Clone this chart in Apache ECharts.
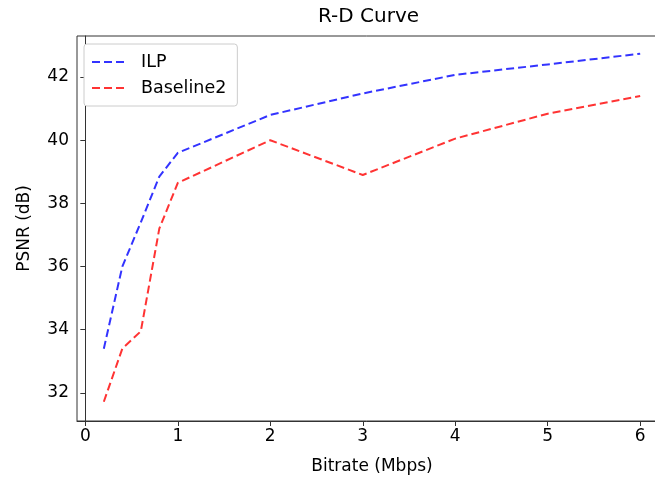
<!DOCTYPE html>
<html>
<head>
<meta charset="utf-8">
<script src="https://cdn.jsdelivr.net/npm/echarts@6/dist/echarts.min.js"></script>
<style>
html,body{margin:0;padding:0;background:#fff;}
#chart{width:655px;height:478px;}
</style>
</head>
<body>
<div id="chart"></div>
<script>
var bitrate = [0.2, 0.4, 0.6, 0.8, 1, 2, 3, 4, 5, 6];
var ilp = [33.4, 36.0, 37.4, 38.85, 39.6, 40.8, 41.48, 42.07, 42.4, 42.74];
var baseline2 = [31.72, 33.4, 33.95, 37.2, 38.65, 40.0, 38.9, 40.05, 40.84, 41.4];
var xTicks = [0, 1, 2, 3, 4, 5, 6];
var yTicks = [32, 34, 36, 38, 40, 42];

function pairs(xs, ys) { return xs.map(function (x, i) { return [x, ys[i]]; }); }

var font = 'DejaVu Sans';
var chart = echarts.init(document.getElementById('chart'), null, {renderer: 'canvas'});
chart.setOption({
  animation: false,
  backgroundColor: '#fff',
  textStyle: {fontFamily: font},
  title: {
    text: 'R-D Curve',
    left: 318, top: 7,
    padding: 0,
    textStyle: {fontFamily: font, fontSize: 20, fontWeight: 'normal', color: '#000'}
  },
  legend: {
    left: 84, top: 44,
    orient: 'vertical',
    itemWidth: 35, itemHeight: 14, itemGap: 8,
    padding: [9, 11, 9, 7],
    backgroundColor: '#fff',
    borderColor: '#ccc', borderWidth: 1, borderRadius: 3,
    itemStyle: {opacity: 0},
    textStyle: {fontFamily: font, fontSize: 17.5, color: '#000', padding: [0, 0, 0, 9]},
    data: ['ILP', 'Baseline2']
  },
  grid: {
    left: 77, top: 36, width: 590, height: 385,
    outerBoundsMode: 'none', containLabel: false,
    show: true, borderColor: '#333', borderWidth: 1, backgroundColor: 'transparent'
  },
  xAxis: {
    type: 'value', min: -0.09, max: 6.29,
    name: 'Bitrate (Mbps)', nameLocation: 'middle', nameGap: 37,
    nameTextStyle: {fontFamily: font, fontSize: 17, color: '#000'},
    axisLine: {show: true, lineStyle: {color: '#333', width: 1}},
    axisTick: {show: true, inside: false, length: 5, lineStyle: {color: '#333'}, customValues: xTicks},
    axisLabel: {fontFamily: font, fontSize: 17, color: '#000', margin: 7, customValues: xTicks},
    splitLine: {show: false}
  },
  yAxis: {
    type: 'value', min: 31.11, max: 43.3,
    name: 'PSNR (dB)', nameLocation: 'middle', nameGap: 44, nameRotate: 90,
    nameTextStyle: {fontFamily: font, fontSize: 17, color: '#000'},
    axisLine: {show: true, lineStyle: {color: '#333', width: 1}},
    axisTick: {show: true, inside: false, length: 5, lineStyle: {color: '#333'}, customValues: yTicks},
    axisLabel: {fontFamily: font, fontSize: 17, color: '#000', margin: 8, customValues: yTicks},
    splitLine: {show: false}
  },
  series: [
    {
      name: 'ILP', type: 'line', symbol: 'none',
      data: pairs(bitrate, ilp),
      lineStyle: {color: 'rgba(0,0,255,0.8)', width: 2, type: [8, 4]},
      itemStyle: {color: 'rgba(0,0,255,0.8)'}
    },
    {
      name: 'Baseline2', type: 'line', symbol: 'none',
      data: pairs(bitrate, baseline2),
      lineStyle: {color: 'rgba(255,0,0,0.8)', width: 2, type: [8, 4]},
      itemStyle: {color: 'rgba(255,0,0,0.8)'}
    }
  ]
});
</script>
</body>
</html>
